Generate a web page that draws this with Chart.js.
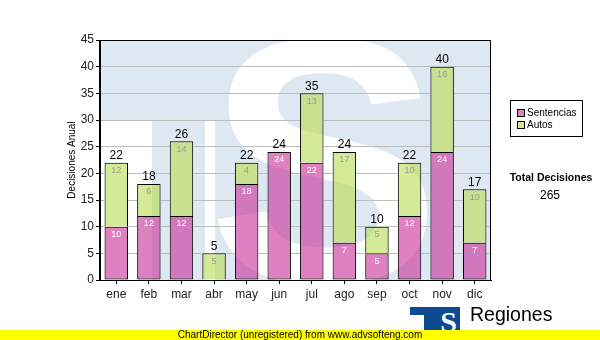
<!DOCTYPE html>
<html>
<head>
<meta charset="utf-8">
<title>Decisiones Anual</title>
<script src="https://cdn.jsdelivr.net/npm/chart.js"></script>
<style>
    body { margin: 0; background: #fff; }
    #wrap { position: relative; width: 600px; height: 340px; overflow: hidden; }
    canvas { display: block; }
    .logo { position: absolute; left: 410px; top: 307px; width: 50px; height: 23px; }
    .logo .t1 { position: absolute; left: 0; top: 0; width: 28px; height: 8px; background: #0e4a8f; }
    .logo .t2 { position: absolute; left: 14px; top: 0; width: 13px; height: 23px; background: #0e4a8f; }
    .logo .s { position: absolute; left: 27px; top: 0; width: 23px; height: 23px; background: #0e4a8f;
               color: #fff; font: bold 30px "Liberation Serif", serif; line-height: 30px; text-align: center; overflow: hidden; }
    .regiones { position: absolute; left: 470px; top: 303px; font: 19.5px "Liberation Sans", Arial, sans-serif; color: #000; }
    .aviso { position: absolute; left: 0; top: 330px; width: 600px; height: 10px; background: #ffff00;
             font: 10px "Liberation Sans", Arial, sans-serif; line-height: 10px; text-align: center; color: #000; }
</style>
</head>
<body>
<div id="wrap">
    <canvas id="grafico" width="600" height="340"></canvas>
    <div class="logo"><div class="t1"></div><div class="t2"></div><div class="s">S</div></div>
    <div class="regiones">Regiones</div>
    <div class="aviso">ChartDirector (unregistered) from www.advsofteng.com</div>
</div>
<script>
    const meses = ['ene', 'feb', 'mar', 'abr', 'may', 'jun', 'jul', 'ago', 'sep', 'oct', 'nov', 'dic'];
    const sentencias = [10, 12, 12, 0, 18, 24, 22, 7, 5, 12, 24, 7];
    const autos = [12, 6, 14, 5, 4, 0, 13, 17, 5, 10, 16, 10];
    const totales = meses.map((m, i) => sentencias[i] + autos[i]);
    const totalDecisiones = totales.reduce((a, b) => a + b, 0);

    const fuente = '"Liberation Sans", Arial, sans-serif';
    const celeste = '#dde8f2';

    // marca de agua "TS" sobre fondo celeste
    function pintarFondo(ctx, a) {
        const w = a.right - a.left, h = a.bottom - a.top;
        ctx.fillStyle = celeste;
        ctx.fillRect(a.left, a.top, w, h);
        ctx.fillStyle = '#ffffff';
        ctx.fillRect(a.left, a.top + 80, 115, h);
        ctx.font = 'bold 350px "Liberation Sans", sans-serif';
        ctx.textAlign = 'center';
        ctx.textBaseline = 'alphabetic';
        ctx.fillText('S', a.left + 224, a.top + 242);
        ctx.fillStyle = celeste;
        ctx.fillRect(a.left, a.top, 113, 80);
        ctx.fillRect(a.left + 52, a.top + 80, 53, h);
    }

    const fondo = {
        id: 'fondo',
        beforeDraw(chart) {
            const { ctx, chartArea: a } = chart;
            ctx.save();
            ctx.beginPath();
            ctx.rect(a.left, a.top, a.right - a.left, a.bottom - a.top);
            ctx.clip();
            pintarFondo(ctx, a);
            ctx.restore();
        },
        // las rejillas no se ven a través de las barras
        beforeDatasetsDraw(chart) {
            const { ctx, chartArea: a } = chart;
            ctx.save();
            ctx.beginPath();
            chart.data.datasets.forEach((ds, i) => {
                chart.getDatasetMeta(i).data.forEach(bar => {
                    const { x, y, base, width } = bar.getProps(['x', 'y', 'base', 'width'], true);
                    ctx.rect(x - width / 2, Math.min(y, base), width, Math.abs(base - y));
                });
            });
            ctx.clip();
            pintarFondo(ctx, a);
            ctx.restore();
        }
    };

    // valores dentro de cada tramo y total encima de la barra
    const etiquetas = {
        id: 'etiquetas',
        afterDatasetsDraw(chart) {
            const ctx = chart.ctx;
            ctx.save();
            ctx.textAlign = 'center';
            ctx.textBaseline = 'middle';
            ctx.font = '9px ' + fuente;
            chart.data.datasets.forEach((ds, i) => {
                chart.getDatasetMeta(i).data.forEach((bar, j) => {
                    const v = ds.data[j];
                    if (!v) return;
                    ctx.fillStyle = ds.colorEtiqueta;
                    ctx.fillText(v, bar.x, bar.y + 8);
                });
            });
            const barras = chart.getDatasetMeta(1).data;
            ctx.font = '12px ' + fuente;
            ctx.fillStyle = '#000';
            ctx.textBaseline = 'bottom';
            totales.forEach((t, j) => {
                ctx.fillText(t, barras[j].x, chart.scales.y.getPixelForValue(t) - 1);
            });
            ctx.restore();
        }
    };

    // marco del área, leyenda y total
    const marco = {
        id: 'marco',
        afterDraw(chart) {
            const { ctx, chartArea: a } = chart;
            ctx.save();
            ctx.strokeStyle = '#000';
            ctx.lineWidth = 1;
            ctx.strokeRect(Math.round(a.left) - 0.5, Math.round(a.top) + 0.5,
                Math.round(a.right - a.left), Math.round(a.bottom - a.top));

            ctx.fillStyle = '#fff';
            ctx.fillRect(510, 100, 72, 36);
            ctx.strokeRect(510.5, 100.5, 72, 36);
            ctx.font = '10px ' + fuente;
            ctx.textBaseline = 'middle';
            chart.data.datasets.forEach((ds, i) => {
                const y = 113 + i * 12;
                ctx.fillStyle = ds.colorLeyenda;
                ctx.fillRect(517, y - 3, 7, 7);
                ctx.strokeRect(517.5, y - 3.5, 7, 7);
                ctx.fillStyle = '#000';
                ctx.fillText(ds.label, 527, y);
            });

            ctx.textAlign = 'center';
            ctx.font = 'bold 10.5px ' + fuente;
            ctx.fillText('Total Decisiones', 551, 178);
            ctx.font = '12px ' + fuente;
            ctx.fillText(totalDecisiones, 550, 196);
            ctx.restore();
        }
    };

    new Chart(document.getElementById('grafico'), {
        type: 'bar',
        data: {
            labels: meses,
            datasets: [{
                label: 'Sentencias',
                data: sentencias,
                backgroundColor: 'rgba(202, 43, 150, 0.6)',
                colorLeyenda: '#df80c0',
                colorEtiqueta: '#ffffff',
                borderColor: '#000',
                borderWidth: 1,
                borderSkipped: false
            }, {
                label: 'Autos',
                data: autos,
                backgroundColor: 'rgba(185, 220, 80, 0.6)',
                colorLeyenda: '#d5ea96',
                colorEtiqueta: '#999999',
                borderColor: '#000',
                borderWidth: { top: 1, left: 1, right: 1, bottom: 0 },
                borderSkipped: false
            }]
        },
        options: {
            responsive: false,
            animation: false,
            events: [],
            categoryPercentage: 1,
            barPercentage: 0.72,
            layout: { padding: { top: 40, right: 109, left: 0, bottom: 0 } },
            plugins: {
                legend: { display: false },
                tooltip: { enabled: false }
            },
            scales: {
                x: {
                    stacked: true,
                    afterFit(scale) { scale.height = 60; },
                    grid: { offset: false, drawOnChartArea: false, tickLength: 4, tickColor: '#000' },
                    border: { color: '#000' },
                    ticks: { color: '#222', padding: 3, font: { family: fuente, size: 12 } }
                },
                y: {
                    stacked: true,
                    min: 0,
                    max: 45,
                    afterFit(scale) { scale.width = 100; },
                    grid: { color: '#bdbdbd', tickLength: 4, tickColor: '#000' },
                    border: { color: '#000' },
                    ticks: { stepSize: 5, color: '#222', padding: 2, font: { family: fuente, size: 12 } },
                    title: {
                        display: true,
                        text: 'Decisiones Anual',
                        color: '#000',
                        padding: { top: 66, bottom: 0 },
                        font: { family: fuente, size: 10 }
                    }
                }
            }
        },
        plugins: [fondo, etiquetas, marco]
    });
</script>
</body>
</html>
